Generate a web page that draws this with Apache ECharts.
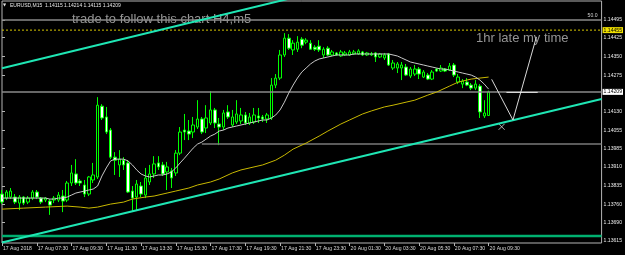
<!DOCTYPE html>
<html><head><meta charset="utf-8">
<script src="https://cdn.jsdelivr.net/npm/echarts@6/dist/echarts.min.js"></script>
<style>html,body{margin:0;padding:0;background:#000;}#c{width:625px;height:255px;}</style>
</head><body><div id="c"></div>
<script>
// ---- categories (15-minute bars) ----
const times17 = "05:30 05:45 06:00 06:15 06:30 06:45 07:00 07:15 07:30 07:45 08:00 08:15 08:30 08:45 09:00 09:15 09:30 09:45 10:00 10:15 10:30 10:45 11:00 11:15 11:30 11:45 12:00 12:15 12:30 12:45 13:00 13:15 13:30 13:45 14:00 14:15 14:30 14:45 15:00 15:15 15:30 15:45 16:00 16:15 16:30 16:45 17:00 17:15 17:30 17:45 18:00 18:15 18:30 18:45 19:00 19:15 19:30 19:45 20:00 20:15 20:30 20:45 21:00 21:15 21:30 21:45 22:00 22:15 22:30 22:45 23:00 23:15 23:30 23:45".split(" ").map(t => "17 Aug " + t);
const times20 = "00:00 00:15 00:30 00:45 01:00 01:15 01:30 01:45 02:00 02:15 02:30 02:45 03:00 03:15 03:30 03:45 04:00 04:15 04:30 04:45 05:00 05:15 05:30 05:45 06:00 06:15 06:30 06:45 07:00 07:15 07:30 07:45 08:00 08:15 08:30 08:45 09:00 09:15 09:30".split(" ").map(t => "20 Aug " + t);
const barTimes = times17.concat(times20);
const emptySlots = 26; // chart shift space to the right of the last bar
const xTickLabels = ["17 Aug 2018","17 Aug 07:30","17 Aug 09:30","17 Aug 11:30","17 Aug 13:30","17 Aug 15:30","17 Aug 17:30","17 Aug 19:30","17 Aug 21:30","17 Aug 23:30","20 Aug 01:30","20 Aug 03:30","20 Aug 05:30","20 Aug 07:30","20 Aug 09:30"];
const yTickLabels = [1.13615,1.13690,1.13760,1.13835,1.13910,1.13985,1.14055,1.14130,1.14275,1.14350,1.14425,1.14495];

// ---- OHLC ----
const open = [1.13802,1.13786,1.13790,1.13790,1.13766,1.13790,1.13770,1.13786,1.13810,1.13786,
1.13778,1.13774,1.13778,1.13778,1.13794,1.13778,1.13846,1.13882,1.13854,1.13838,
1.13802,1.13858,1.13870,1.14152,1.14109,1.14057,1.13949,1.13918,1.13937,1.13926,
1.13814,1.13790,1.13834,1.13798,1.13850,1.13882,1.13926,1.13918,1.13890,1.13894,
1.13886,1.13965,1.14057,1.14053,1.14049,1.14069,1.14101,1.14065,1.14085,1.14137,
1.14081,1.14069,1.14129,1.14077,1.14089,1.14093,1.14117,1.14085,1.14089,1.14113,
1.14109,1.14101,1.14105,1.14236,1.14264,1.14356,1.14423,1.14376,1.14379,1.14419,
1.14407,1.14403,1.14387,1.14391,1.14356,1.14383,1.14356,1.14364,1.14352,1.14356,
1.14356,1.14360,1.14360,1.14368,1.14356,1.14356,1.14364,1.14348,1.14344,1.14360,
1.14304,1.14304,1.14304,1.14308,1.14272,1.14280,1.14300,1.14268,1.14276,1.14260,
1.14300,1.14292,1.14300,1.14296,1.14316,1.14248,1.14240,1.14248,1.14236,1.14224,
1.14232,1.14113,1.14115];
const close = [1.13770,1.13810,1.13814,1.13770,1.13790,1.13766,1.13786,1.13810,1.13790,1.13770,
1.13786,1.13758,1.13786,1.13798,1.13774,1.13846,1.13886,1.13846,1.13846,1.13802,
1.13870,1.13878,1.14156,1.14105,1.14049,1.13949,1.13937,1.13941,1.13918,1.13810,
1.13786,1.13842,1.13802,1.13866,1.13882,1.13922,1.13910,1.13882,1.13910,1.13866,
1.13965,1.14049,1.14049,1.14041,1.14077,1.14101,1.14049,1.14105,1.14137,1.14085,
1.14069,1.14125,1.14109,1.14109,1.14121,1.14117,1.14085,1.14109,1.14117,1.14105,
1.14101,1.14117,1.14236,1.14264,1.14356,1.14423,1.14383,1.14403,1.14407,1.14395,
1.14415,1.14379,1.14379,1.14376,1.14379,1.14356,1.14368,1.14356,1.14368,1.14364,
1.14368,1.14368,1.14372,1.14356,1.14364,1.14360,1.14348,1.14360,1.14356,1.14316,
1.14324,1.14320,1.14316,1.14276,1.14300,1.14300,1.14280,1.14288,1.14260,1.14288,
1.14292,1.14304,1.14292,1.14312,1.14276,1.14268,1.14252,1.14236,1.14224,1.14240,
1.14129,1.14125,1.14209];
const low = [1.13762,1.13778,1.13782,1.13762,1.13738,1.13758,1.13762,1.13778,1.13782,1.13762,
1.13770,1.13719,1.13766,1.13770,1.13730,1.13770,1.13834,1.13838,1.13834,1.13790,
1.13794,1.13846,1.13862,1.14097,1.14041,1.13941,1.13878,1.13870,1.13898,1.13806,
1.13734,1.13738,1.13790,1.13786,1.13838,1.13866,1.13898,1.13874,1.13818,1.13826,
1.13874,1.13957,1.14017,1.14017,1.14025,1.14061,1.14041,1.14045,1.14077,1.14065,
1.13997,1.14057,1.14101,1.14069,1.14081,1.14081,1.14077,1.14077,1.14081,1.14085,
1.14089,1.14085,1.14097,1.14224,1.14256,1.14348,1.14376,1.14356,1.14368,1.14383,
1.14399,1.14376,1.14372,1.14368,1.14344,1.14352,1.14352,1.14352,1.14348,1.14352,
1.14352,1.14356,1.14356,1.14352,1.14352,1.14352,1.14328,1.14344,1.14336,1.14312,
1.14296,1.14284,1.14256,1.14272,1.14264,1.14272,1.14260,1.14264,1.14256,1.14256,
1.14288,1.14288,1.14288,1.14292,1.14268,1.14240,1.14224,1.14232,1.14216,1.14216,
1.14105,1.14105,1.14115];
const high = [1.13818,1.13818,1.13826,1.13802,1.13798,1.13794,1.13794,1.13818,1.13818,1.13790,
1.13790,1.13782,1.13794,1.13810,1.13818,1.13854,1.13918,1.13941,1.13862,1.13858,
1.13874,1.13926,1.14188,1.14160,1.14149,1.14065,1.13969,1.13977,1.13949,1.13937,
1.13834,1.13858,1.13850,1.13906,1.13918,1.13953,1.13953,1.13930,1.13930,1.13906,
1.13977,1.14069,1.14121,1.14097,1.14109,1.14176,1.14109,1.14156,1.14212,1.14145,
1.14105,1.14137,1.14156,1.14137,1.14176,1.14145,1.14129,1.14125,1.14145,1.14145,
1.14117,1.14125,1.14264,1.14280,1.14376,1.14443,1.14439,1.14415,1.14431,1.14427,
1.14423,1.14415,1.14395,1.14415,1.14387,1.14391,1.14376,1.14368,1.14376,1.14372,
1.14376,1.14376,1.14379,1.14372,1.14368,1.14368,1.14368,1.14364,1.14364,1.14364,
1.14336,1.14328,1.14328,1.14320,1.14308,1.14316,1.14308,1.14296,1.14284,1.14296,
1.14304,1.14316,1.14304,1.14324,1.14324,1.14280,1.14260,1.14264,1.14244,1.14256,
1.14240,1.14176,1.14214];

// ---- moving averages ----
const maFast = [1.13786,1.13786,1.13786,1.13786,1.13786,1.13786,1.13786,1.13786,1.13786,1.13786,
1.13786,1.13782,1.13782,1.13786,1.13786,1.13790,1.13798,1.13806,1.13810,1.13814,
1.13818,1.13822,1.13834,1.13874,1.13906,1.13934,1.13941,1.13941,1.13941,1.13934,
1.13918,1.13898,1.13882,1.13874,1.13870,1.13874,1.13878,1.13878,1.13882,1.13890,
1.13906,1.13926,1.13945,1.13965,1.13985,1.14001,1.14009,1.14021,1.14033,1.14041,
1.14053,1.14057,1.14065,1.14069,1.14073,1.14077,1.14081,1.14085,1.14089,1.14093,
1.14097,1.14097,1.14105,1.14117,1.14137,1.14168,1.14204,1.14236,1.14264,1.14288,
1.14304,1.14320,1.14332,1.14340,1.14344,1.14348,1.14352,1.14356,1.14356,1.14356,
1.14356,1.14360,1.14360,1.14360,1.14360,1.14360,1.14360,1.14360,1.14360,1.14360,
1.14356,1.14352,1.14344,1.14336,1.14328,1.14324,1.14320,1.14316,1.14312,1.14308,
1.14304,1.14300,1.14300,1.14296,1.14292,1.14288,1.14284,1.14280,1.14276,1.14268,
1.14256,1.14240,1.14220];
const maSlow = [[0,1.13742],[5,1.13746],[10,1.13750],[15,1.13754],[18,1.13750],[20,1.13746],[22,1.13750],
[25,1.13762],[28,1.13770],[30,1.13782],[33,1.13790],[35,1.13794],[38,1.13806],[40,1.13814],[43,1.13826],
[45,1.13838],[48,1.13850],[50,1.13862],[53,1.13886],[55,1.13898],[58,1.13910],[60,1.13918],[63,1.13937],
[65,1.13957],[67,1.13981],[70,1.14005],[73,1.14033],[75,1.14053],[78,1.14081],[80,1.14097],[83,1.14121],
[85,1.14133],[88,1.14149],[90,1.14156],[93,1.14168],[95,1.14176],[98,1.14196],[100,1.14208],[103,1.14232],
[105,1.14248],[108,1.14260],[110,1.14264],[112,1.14268]];

// ---- drawn objects (bar index, price) ----
const upperChannel = [[0,1.14303],[66,1.14580]];
const lowerChannel = [[0,1.13609],[138,1.14181]];
const baseLine = [[0,1.13635],[138,1.13635]];
const levelLine = [[46,1.14001],[138,1.14001]];
const handPath = [[112.7,1.14259],[117.6,1.14097],[123.0,1.14428]];
const handFlat = [[116.1,1.14207],[123.3,1.14207]];
const crossMark = [[115.0,1.14070]];
const fibLevel = 1.14495, fibText = "50.0";
const alertLevel = 1.14455;
const bidLevel = 1.14209;
const yMin = 1.13607, yMax = 1.14571;

const cats = barTimes.concat(Array(emptySlots).fill(''));
const lastIdx = cats.length - 1;
const ohlc = open.map((o, i) => [o, close[i], low[i], high[i]]);
const isTick = (i) => i % 8 === 0 && i < barTimes.length;
const tinyFont = 'Liberation Sans';
const hLine = (v) => [[0, v], [lastIdx, v]];

const chart = echarts.init(document.getElementById('c'), null, {renderer: 'canvas'});
chart.setOption({
  backgroundColor: '#000',
  animation: false,
  grid: {left: 1, right: 23, top: 1, bottom: 12, show: true, borderColor: '#b4b4b4', borderWidth: 1, backgroundColor: '#000'},
  xAxis: [{
    type: 'category', data: cats, boundaryGap: false,
    axisLine: {show: false},
    axisTick: {show: true, alignWithLabel: true, interval: (i) => isTick(i), length: 3, lineStyle: {color: '#b4b4b4'}},
    axisLabel: {interval: (i) => isTick(i), formatter: (v, i) => isTick(i) ? xTickLabels[i / 8] : '', align: 'left', margin: 3,
      color: '#d8d8d8', fontSize: 5.1, fontFamily: tinyFont, padding: [0,0,0,1]},
    splitLine: {show: false}
  }, {
    type: 'value', min: 0, max: lastIdx, show: false
  }],
  yAxis: {
    type: 'value', position: 'right', min: yMin, max: yMax, scale: true,
    axisLine: {show: false}, splitLine: {show: false},
    axisTick: {show: true, customValues: yTickLabels, length: 3, lineStyle: {color: '#b4b4b4'}},
    axisLabel: {customValues: yTickLabels, formatter: (v) => v.toFixed(5), color: '#e8e8e8', fontSize: 5.1, fontFamily: tinyFont, margin: 2}
  },
  series: [
    {type: 'line', xAxisIndex: 1, data: baseLine, symbol: 'none', lineStyle: {color: '#00b070', width: 2.5}, silent: true},
    {type: 'line', xAxisIndex: 1, data: levelLine, symbol: 'none', lineStyle: {color: '#7a7a7a', width: 1.5}, silent: true},
    {type: 'line', xAxisIndex: 1, data: hLine(fibLevel), symbol: 'none', lineStyle: {color: '#8a8a8a', width: 1.5}, silent: true,
      endLabel: {show: true, formatter: fibText, color: '#d0d0d0', fontSize: 5.1, fontFamily: tinyFont, offset: [-14, -4], distance: 0}},
    {type: 'line', xAxisIndex: 1, data: hLine(alertLevel), symbol: 'none', lineStyle: {color: '#d8c800', width: 1, type: [2, 2]}, silent: true,
      endLabel: {show: true, formatter: alertLevel.toFixed(5), color: '#000', backgroundColor: '#f0e000', fontSize: 5.1, fontFamily: tinyFont, padding: [1, 1, 0, 1], distance: 1}},
    {type: 'line', xAxisIndex: 1, data: hLine(bidLevel), symbol: 'none', lineStyle: {color: '#8a8a8a', width: 1.5}, silent: true,
      endLabel: {show: true, formatter: bidLevel.toFixed(5), color: '#000', backgroundColor: '#ffffff', fontSize: 5.1, fontFamily: tinyFont, padding: [1, 1, 0, 1], distance: 1}},
    {type: 'line', data: maSlow, xAxisIndex: 1, symbol: 'none', lineStyle: {color: '#c8b800', width: 1}, silent: true},
    {type: 'line', data: maFast, symbol: 'none', lineStyle: {color: '#c8c8c8', width: 1}, silent: true},
    {type: 'candlestick', data: ohlc, barWidth: 3,
      itemStyle: {color: '#000', color0: '#fff', borderColor: '#00ff00', borderColor0: '#00ff00', borderWidth: 1}},
    {type: 'line', xAxisIndex: 1, data: upperChannel, symbol: 'none', clip: true, lineStyle: {color: '#1fe6b4', width: 2}, silent: true},
    {type: 'line', xAxisIndex: 1, data: lowerChannel, symbol: 'none', clip: true, lineStyle: {color: '#1fe6b4', width: 2}, silent: true},
    {type: 'line', xAxisIndex: 1, data: handPath, symbol: 'none', lineStyle: {color: '#d8d8d8', width: 1}, silent: true},
    {type: 'line', xAxisIndex: 1, data: handFlat, symbol: 'none', lineStyle: {color: '#e8e8e8', width: 1}, silent: true},
    {type: 'scatter', xAxisIndex: 1, data: crossMark, symbol: 'path://M0,0L10,10M10,0L0,10', symbolSize: 6,
      itemStyle: {color: 'none', borderColor: '#d8d8d8', borderWidth: 1}, silent: true}
  ],
  graphic: [
    {type: 'text', left: 3, top: 3, style: {text: '\u25BC', fill: '#e0e0e0', font: '4px "DejaVu Sans"'}},
    {type: 'text', x: 10, y: 5.6, style: {text: 'EURUSD,M15  1.14115 1.14214 1.14115 1.14209', fill: '#e8e8e8', font: '5px "Liberation Sans"', verticalAlign: 'middle'}},
    {type: 'text', x: 72, y: 19, style: {text: 'trade to follow this chart H4,m5', fill: '#959595', font: '13px "Liberation Sans"', verticalAlign: 'middle'}},
    {type: 'text', x: 476, y: 38.5, style: {text: '1hr late my time', fill: '#959595', font: '13px "Liberation Sans"', verticalAlign: 'middle'}}
  ]
});
</script></body></html>
